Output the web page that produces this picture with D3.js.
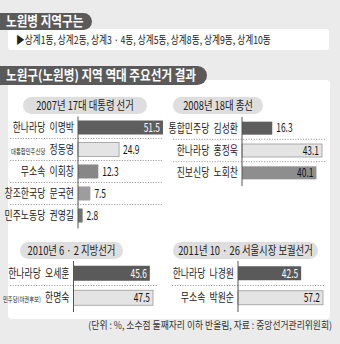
<!DOCTYPE html>
<html>
<head>
<meta charset="utf-8">
<script src="https://cdn.jsdelivr.net/npm/d3@7"></script>
<style>
  body { margin: 0; background: #ebebeb; }
  svg { display: block; font-family: "Noto Sans CJK KR", "Noto Sans", sans-serif; }
</style>
</head>
<body>
<div id="chart"></div>
<script>
// 데이터
const dongs = ["상계1동", "상계2동", "상계3 · 4동", "상계5동", "상계8동", "상계9동", "상계10동"];
const titles = ["2007년 17대 대통령 선거", "2008년 18대 총선", "2010년 6 · 2 지방선거", "2011년 10 · 26 서울시장 보궐선거"];

const p1Parties = ["한나라당", "대통합민주신당", "무소속", "창조한국당", "민주노동당"];
const p1Cands = ["이명박", "정동영", "이회창", "문국현", "권영길"];
const p1Values = [51.5, 24.9, 12.3, 7.5, 2.8];

const p2Parties = ["통합민주당", "한나라당", "진보신당"];
const p2Cands = ["김성환", "홍정욱", "노회찬"];
const p2Values = [16.3, 43.1, 40.1];

const p3Parties = ["한나라당", "민주당(야권후보)"];
const p3Cands = ["오세훈", "한명숙"];
const p3Values = [45.6, 47.5];

const p4Parties = ["한나라당", "무소속"];
const p4Cands = ["나경원", "박원순"];
const p4Values = [42.5, 57.2];

const W = 340, H = 344;
const svg = d3.select("#chart").append("svg").attr("width", W).attr("height", H);
svg.append("rect").attr("width", W).attr("height", H).attr("fill", "#ebebeb");

// 좁은 글자 (압축체 흉내)
function txt(g, x, y, s, o) {
  o = o || {};
  return g.append("text")
    .attr("transform", "translate(" + x + "," + y + ") scale(" + (o.sx || 0.66) + ",1)")
    .attr("text-anchor", o.anchor || "start")
    .attr("dy", "0.36em")
    .attr("font-size", o.size || 12)
    .attr("font-weight", o.bold ? "bold" : "normal")
    .attr("fill", o.fill || "#222")
    .text(s);
}

function titlePill(x1, y, h, s) {
  const r = h / 2;
  svg.append("path")
    .attr("d", "M0," + y + "H" + (x1 - r) + "A" + r + "," + r + " 0 0 1 " + (x1 - r) + "," + (y + h) + "H0Z")
    .attr("fill", "#5a5a5a");
  txt(svg, 6, y + h / 2, s, {size: 13.5, sx: 0.86, fill: "#fff", bold: true});
}

// 지역구 박스
svg.append("rect").attr("x", 8).attr("y", 29).attr("width", 321).attr("height", 21).attr("rx", 3).attr("fill", "#fff");
titlePill(92, 13, 17, "노원병 지역구는");
txt(svg, 16, 40.5, "▶" + dongs.join(", "), {size: 11, sx: 0.79, fill: "#222"});

// 큰 박스
svg.append("rect").attr("x", 8).attr("y", 80).attr("width", 322).attr("height", 239).attr("rx", 4).attr("fill", "#fff");
titlePill(207, 66, 19, "노원구(노원병) 지역 역대 주요선거 결과");

const panels = [
  {title: titles[0], parties: p1Parties, cands: p1Cands, values: p1Values,
   pill: [23, 147], pillY: 97, axisX: 78, maxW: 85, rows: [116.5, 226.5], bh: 14, sep: [10, 163],
   fills: ["#5e5e5e", "#e4e4e4", "#878787", "#9d9d9d", "#727272"]},
  {title: titles[1], parties: p2Parties, cands: p2Cands, values: p2Values,
   pill: [173, 263], pillY: 97, axisX: 242, maxW: 80, rows: [117, 184], bh: 13, sep: [173, 326],
   fills: ["#5e5e5e", "#e4e4e4", "#8e8e8e"]},
  {title: titles[2], parties: p3Parties, cands: p3Cands, values: p3Values,
   pill: [20, 123], pillY: 242, axisX: 73.5, maxW: 79.5, rows: [261, 310], bh: 15, sep: [10, 158],
   fills: ["#5a5a5a", "#e4e4e4"]},
  {title: titles[3], parties: p4Parties, cands: p4Cands, values: p4Values,
   pill: [173, 318], pillY: 242, axisX: 238, maxW: 85, rows: [261, 310], bh: 14, sep: [172, 325],
   fills: ["#5a5a5a", "#e4e4e4"]}
];

panels.forEach(p => {
  const g = svg.append("g");
  // 선거 제목
  g.append("rect").attr("x", p.pill[0]).attr("y", p.pillY).attr("width", p.pill[1] - p.pill[0]).attr("height", 17)
    .attr("rx", 8.5).attr("fill", "#dedede");
  txt(g, (p.pill[0] + p.pill[1]) / 2, p.pillY + 8.5, p.title, {size: 12, sx: 0.78, anchor: "middle", fill: "#222"});

  const idx = d3.range(p.values.length);
  const x = d3.scaleLinear().domain([0, d3.max(p.values)]).range([p.axisX, p.axisX + p.maxW]);
  const y = d3.scalePoint().domain(idx).range(p.rows).padding(0.5);
  const step = y.step();

  // 점선 구분선
  idx.slice(1).forEach(i => {
    g.append("line").attr("x1", p.sep[0]).attr("x2", p.sep[1])
      .attr("y1", y(i) - step / 2).attr("y2", y(i) - step / 2)
      .attr("stroke", "#8a8a8a").attr("stroke-width", 0.8).attr("stroke-dasharray", "1.2,1.4");
  });

  idx.forEach(i => {
    const v = p.values[i];
    const light = d3.hsl(p.fills[i]).l > 0.8;
    g.append("rect")
      .attr("x", x(0)).attr("y", y(i) - p.bh / 2)
      .attr("width", x(v) - x(0)).attr("height", p.bh)
      .attr("fill", p.fills[i])
      .attr("stroke", light ? "#9a9a9a" : "none").attr("stroke-width", 0.8);

    const inside = x(v) - x(0) > 50;
    const dark = d3.hsl(p.fills[i]).l < 0.42;
    if (inside) {
      txt(g, x(v) - 3, y(i), v.toFixed(1), {size: 12, sx: 0.7, anchor: "end", fill: dark ? "#fff" : "#111"});
    } else {
      txt(g, x(v) + 4, y(i), v.toFixed(1), {size: 12, sx: 0.7, fill: "#111"});
    }

    // 정당 + 후보 이름
    const small = p.parties[i].length >= 7;
    const t = txt(g, p.axisX - 4, y(i), "", {size: 12, sx: 0.74, anchor: "end", fill: "#222"});
    t.append("tspan").attr("font-size", small ? 7.2 : 12).text(p.parties[i]);
    t.append("tspan").attr("dx", 3).text(" " + p.cands[i]);
  });

  // 세로축
  g.append("line").attr("x1", p.axisX).attr("x2", p.axisX)
    .attr("y1", p.rows[0]).attr("y2", p.rows[1] + 2)
    .attr("stroke", "#555").attr("stroke-width", 1);
});

txt(svg, 332, 325, "(단위 : %, 소수점 둘째자리 이하 반올림, 자료 : 중앙선거관리위원회)", {size: 10, sx: 0.88, anchor: "end", fill: "#333"});
</script>
</body>
</html>
